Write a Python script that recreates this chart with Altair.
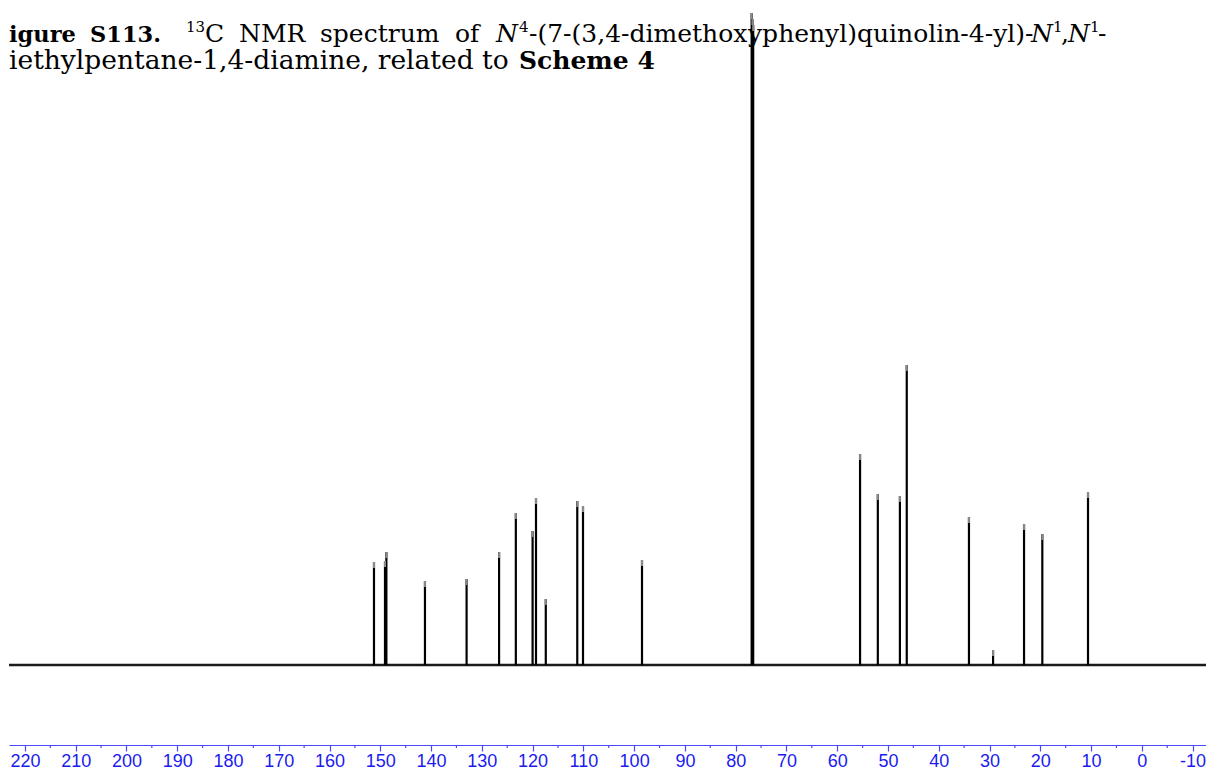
import altair as alt
import pandas as pd

# ---- data (13C NMR, ppm / relative intensity) ----
peak_ppm = [151.24, 149.07, 148.80, 141.2, 133.0, 126.6, 123.3, 120.0, 119.33,
            117.4, 111.2, 110.07, 98.45, 76.85, 76.70, 76.55, 55.5, 52.0, 47.65,
            46.3, 34.05, 29.3, 23.2, 19.6, 10.6]
peak_height = [103, 104, 113, 84, 86, 113, 152, 134, 167,
               66, 164, 159, 105, 652, 646, 640, 211, 171, 169,
               300, 148, 15, 141, 131, 173]
major_ticks = list(range(-10, 221, 10))
minor_ticks = list(range(-5, 220, 10))
x_domain = [-12.64, 223.13]

line1_segments = ["igure", "S113.", "13", "C", "NMR", "spectrum", "of", "N", "4",
                  "-(7-(3,4-dimethox", "yphenyl)quinolin-4-yl)-", "N", "1", ",", "N", "1", "-"]
line2_segments = ["iethylpentane-1,4-diamine, related to", "Scheme 4"]

# ---- layout / style ----
W, H = 1197, 737
BLUE_TXT = "#1b1bef"
BLUE_LINE = "#4a4aff"
SERIF = "DejaVu Serif"

xs = alt.Scale(domain=x_domain, reverse=True, nice=False, zero=False)
ys = alt.Scale(domain=[-80, 657], nice=False, zero=False)

axis_x = alt.Axis(values=major_ticks, labelExpr="'' + datum.value", title=None,
                  grid=False, domainColor=BLUE_LINE, domainWidth=1.2,
                  tickColor=BLUE_LINE, tickWidth=1.2, tickSize=6,
                  labelColor=BLUE_TXT, labelFont="Liberation Sans", labelFontSize=18,
                  labelPadding=1, labelFlush=False, labelOverlap=False)

peaks_df = pd.DataFrame({"ppm": peak_ppm, "height": peak_height, "base": [0] * len(peak_ppm)})
peaks = alt.Chart(peaks_df).mark_rule(color="black", strokeWidth=2.2).encode(
    x=alt.X("ppm:Q", scale=xs, axis=axis_x),
    y=alt.Y("base:Q", scale=ys, axis=None),
    y2="height:Q",
)

# lighter apex of each peak, as in the plotted spectrum
tips = alt.Chart(peaks_df).transform_calculate(
    tip="datum.height - 6"
).mark_rule(color="#8a8a8a", strokeWidth=2).encode(
    x=alt.X("ppm:Q", scale=xs, title=None),
    y=alt.Y("tip:Q", scale=ys, axis=None),
    y2="height:Q",
)

baseline_df = pd.DataFrame({"ppm": x_domain, "v": [0, 0]})
baseline = alt.Chart(baseline_df).mark_line(color="#1a1a1a", strokeWidth=2.6).encode(
    x=alt.X("ppm:Q", scale=xs, title=None),
    y=alt.Y("v:Q", scale=ys, axis=None),
)

minor_df = pd.DataFrame({"ppm": minor_ticks})
minor = alt.Chart(minor_df).mark_rule(color=BLUE_LINE, strokeWidth=1.2).encode(
    x=alt.X("ppm:Q", scale=xs, title=None),
    y=alt.value(H),
    y2=alt.value(H + 3),
)

# title word placement (page-x start, kind); line 1 is justified in the reference
l1_x = [9, 90, 186, 205, 239, 320, 455, 496, 519, 529, 748, 1031, 1053, 1061, 1068, 1090, 1098]
l1_kind = ["bold", "bold", "sup", "reg", "reg", "reg", "reg", "ital", "sup",
           "reg", "reg", "ital", "sup", "reg", "ital", "sup", "reg"]
l2_x = [9, 519]
l2_kind = ["reg2", "bold2"]

def seg(text, px, kind, base_y):
    y = base_y - 8
    size = 25
    weight = "normal"
    style = "normal"
    if kind == "bold":
        weight = "bold"
        size = 22.5
    elif kind == "bold2":
        weight = "bold"
    elif kind == "reg2":
        size = 26.5
    elif kind == "ital":
        style = "italic"
    elif kind == "sup":
        size = 15
        y = y - 10
    return alt.Chart(pd.DataFrame({"t": [text]})).mark_text(
        align="left", baseline="alphabetic", font=SERIF, fontSize=size,
        fontWeight=weight, fontStyle=style, color="black",
    ).encode(text="t:N", x=alt.value(px - 9), y=alt.value(y))

texts = []
for t, px, k in zip(line1_segments, l1_x, l1_kind):
    texts.append(seg(t, px, k, 42))
for t, px, k in zip(line2_segments, l2_x, l2_kind):
    texts.append(seg(t, px, k, 69))

chart = alt.layer(*texts, baseline, peaks, tips, minor).properties(
    width=W, height=H,
    autosize=alt.AutoSizeParams(type="none"),
    padding={"left": 1, "top": 0, "right": 0, "bottom": 30},
).configure_view(strokeWidth=0)

chart.save("out.html", embed_options={"renderer": "svg", "actions": False})
